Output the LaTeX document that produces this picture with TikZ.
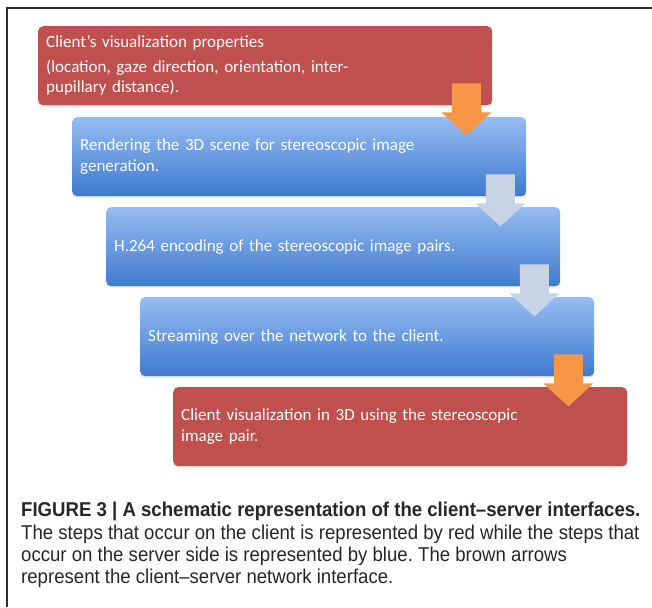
\documentclass[tikz,border=0pt]{standalone}
\usepackage{fontspec}
\setmainfont{Carlito}
\newfontfamily\capfont[FakeStretch=0.93]{Liberation Sans}
\usetikzlibrary{shadows}
\frenchspacing

\definecolor{clientred}{RGB}{192,80,77}
\definecolor{servertop}{RGB}{150,188,242}
\definecolor{serverbot}{RGB}{62,122,206}
\definecolor{netorange}{RGB}{247,150,70}
\definecolor{lanearrow}{RGB}{200,212,230}
\definecolor{framegray}{RGB}{45,45,45}

\tikzset{
  stepbox/.style={rectangle, rounded corners=5pt, anchor=north west,
    minimum height=79pt, text width=438pt, inner xsep=8pt, inner ysep=0pt,
    align=left, text=white, font=\fontsize{17}{20.5}\selectfont,
    drop shadow={opacity=0.2, shadow xshift=0pt, shadow yshift=-1.5pt}},
  clientbox/.style={stepbox, fill=clientred},
  serverbox/.style={stepbox, top color=servertop, bottom color=serverbot},
  caption/.style={anchor=north west, inner sep=0pt, align=left,
    font=\capfont\fontsize{20}{22.4}\selectfont, text=black!85}
}

% block arrow hanging from the lower right corner of a box
\newcommand\flowarrow[2]{%
  \begin{scope}[shift={(#1.south east)}]
    \fill[#2] (-40.5,-22) -- (-11.5,-22) -- (-11.5,7) -- (-1,7) -- (-26,30)
      -- (-51,7) -- (-40.5,7) -- cycle;
  \end{scope}}

\begin{document}
\begin{tikzpicture}[x=1pt,y=-1pt]
\useasboundingbox (0,0) rectangle (652,607);
\draw[framegray, line width=1.4pt] (7,607) -- (7,8) -- (652,8);

\node[clientbox] (client) at (38,26) {Client’s visualization properties\\[4pt]
  (location, gaze direction, orientation, inter-\\pupillary distance).};
\node[serverbox] (render) at (72,117) {Rendering the 3D scene for stereoscopic image\\generation.};
\node[serverbox] (encode) at (106,207) {H.264 encoding of the stereoscopic image pairs.};
\node[serverbox] (stream) at (140,297) {Streaming over the network to the client.};
\node[clientbox] (display) at (173,387) {Client visualization in 3D using the stereoscopic\\image pair.};

\flowarrow{client}{netorange}
\flowarrow{render}{lanearrow}
\flowarrow{encode}{lanearrow}
\flowarrow{stream}{netorange}

\node[caption] (caption) at (21,502) {\textbf{FIGURE 3 | A schematic representation of the client–server interfaces.}\\
The steps that occur on the client is represented by red while the steps that\\
occur on the server side is represented by blue. The brown arrows\\
represent the client–server network interface.};
\end{tikzpicture}
\end{document}
